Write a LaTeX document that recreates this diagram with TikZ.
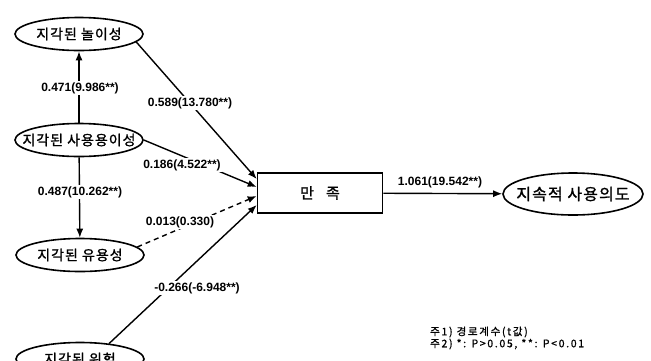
\documentclass[tikz,border=0pt]{standalone}
\usepackage{fontspec}
\setmainfont{Noto Sans CJK KR}
\newfontfamily\kfont{Noto Sans CJK KR}[FakeBold=1.3,LetterSpace=7]
\newfontfamily\nfont{Noto Sans CJK KR}[FakeBold=1,LetterSpace=16]
\newfontfamily\labfont{Liberation Sans}
\usetikzlibrary{shapes.geometric,arrows.meta,calc}
\newcommand\zw[1]{\makebox[0pt]{#1}}
\begin{document}
\begin{tikzpicture}[x=1pt,y=-1pt,
  latent/.style={ellipse,draw,line width=1.6pt,minimum width=128pt,minimum height=33pt,inner sep=0pt,font=\kfont\fontsize{14}{14}\selectfont},
  mainbox/.style={rectangle,draw,line width=1.6pt,minimum width=125pt,minimum height=40pt,inner sep=0pt,font=\kfont\fontsize{15}{15}\selectfont},
  conn/.style={line width=1.4pt,-{Latex[length=9pt,width=7pt]}},
  coef/.style={font=\labfont\bfseries\fontsize{12}{12}\selectfont,inner sep=1.5pt},
  coefw/.style={coef,fill=white},
  note/.style={font=\nfont\fontsize{10.5}{10.5}\selectfont,anchor=west,inner sep=0pt}
]
\useasboundingbox (0,0) rectangle (651,360);
\fill[white] (0,0) rectangle (651,360);
\clip (0,0) rectangle (651,360);

\node[latent] (e1) at (79,34) {\zw{지각된 놀이성}};
\node[latent] (e2) at (79,140) {\zw{지각된 사용용이성}};
\node[latent] (e3) at (80,255) {\zw{지각된 유용성}};
\node[latent] (e4) at (80,359) {\zw{지각된 위험}};
\node[mainbox] (sat) at (320,193) {만\hspace{12pt}족};
\node[latent,minimum width=140pt,minimum height=42pt,font=\kfont\fontsize{16}{16}\selectfont] (e5) at (573,194) {\zw{지속적 사용의도}};

\coordinate (t1) at ($(sat.west)+(0,-14)$);
\coordinate (t2) at ($(sat.west)+(0,-6)$);
\coordinate (t3) at ($(sat.west)+(0,3)$);
\coordinate (t4) at ($(sat.west)+(0,12)$);

\draw[conn] (e2) -- (e1);
\draw[conn] (e2) -- (e3);
\draw[conn] (e1.-8) -- (t1);
\draw[conn] (e2.east) -- (t2);
\draw[conn,dashed,dash pattern=on 5pt off 4pt] (e3.8) -- (t3);
\draw[conn] (e4.28) -- (t4);
\draw[conn] (sat) -- (e5);

\node[coefw] at (80,88) {0.471(9.986**)};
\node[coefw] at (80,192) {0.487(10.262**)};
\node[coefw] at (190,103) {0.589(13.780**)};
\node[coefw] at (182,165) {0.186(4.522**)};
\node[coefw] at (180,222) {0.013(0.330)};
\node[coefw] at (197,288) {-0.266(-6.948**)};
\node[coef] at (440,182) {1.061(19.542**)};

\node[note] (n1) at (430,332) {주1) 경로계수(t값)};
\node[note] (n2) at (430,344) {주2) *: P>0.05, **: P<0.01};
\end{tikzpicture}
\end{document}
